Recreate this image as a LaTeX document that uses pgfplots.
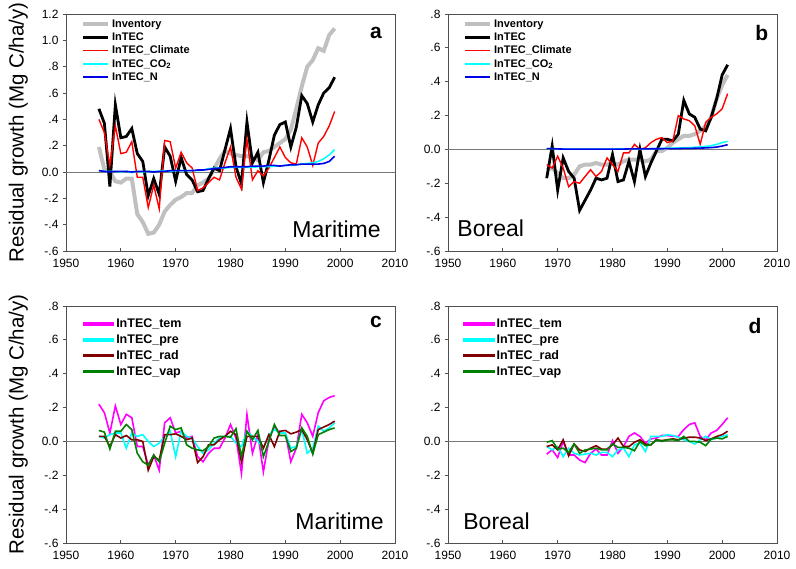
\documentclass[border=0pt]{standalone}
\usepackage{fontspec}
\setmainfont{Liberation Sans}
\usepackage{pgfplots}
\usepackage{pgfplotstable}
\pgfplotsset{compat=1.18}
\usepgfplotslibrary{groupplots}

\definecolor{invgray}{RGB}{192,192,192}
\definecolor{radred}{RGB}{128,0,0}
\definecolor{vapgreen}{RGB}{0,128,0}
\definecolor{axgray}{RGB}{80,80,80}
\definecolor{zerogray}{RGB}{120,120,120}
\definecolor{cyn}{RGB}{0,255,255}
\definecolor{mag}{RGB}{255,0,255}
\definecolor{blu}{RGB}{0,0,230}
\definecolor{rd}{RGB}{255,0,0}

% Maritime: inventory and model runs
\pgfplotstableread{
year inv intec clim co2 n
1956 0.19 0.48 0.40 0.010 0.010
1957 0.02 0.37 0.30 0.005 0.005
1958 0.00 -0.11 0.05 0.005 0.000
1959 -0.07 0.51 0.35 0.005 0.005
1960 -0.08 0.26 0.14 0.000 0.005
1961 -0.05 0.27 0.15 0.005 0.005
1962 -0.05 0.33 0.23 -0.005 0.000
1963 -0.32 0.14 -0.04 0.005 0.005
1964 -0.38 0.08 -0.04 0.000 0.005
1965 -0.47 -0.18 -0.27 0.005 0.005
1966 -0.46 -0.05 -0.10 0.005 0.000
1967 -0.40 -0.17 -0.28 0.005 0.005
1968 -0.30 0.19 0.24 0.010 0.005
1969 -0.25 0.12 0.23 0.005 0.010
1970 -0.21 -0.07 0.03 0.010 0.010
1971 -0.19 0.11 0.15 0.010 0.010
1972 -0.16 -0.02 0.07 0.010 0.010
1973 -0.16 -0.06 0.03 0.010 0.010
1974 -0.10 -0.15 -0.14 0.010 0.015
1975 -0.08 -0.14 -0.12 0.015 0.015
1976 -0.05 -0.05 -0.08 0.025 0.020
1977 0.02 0.03 -0.04 0.030 0.025
1978 0.10 0.01 -0.06 0.030 0.030
1979 0.16 0.17 0.07 0.030 0.035
1980 0.14 0.33 0.19 0.035 0.040
1981 0.13 0.04 -0.04 0.035 0.040
1982 0.12 -0.09 -0.13 0.035 0.040
1983 0.12 0.38 0.25 0.035 0.040
1984 0.11 0.07 -0.06 0.035 0.045
1985 0.09 0.15 0.01 0.040 0.045
1986 0.15 -0.08 -0.03 0.040 0.045
1987 0.16 0.09 0.03 0.040 0.050
1988 0.19 0.28 0.11 0.045 0.050
1989 0.22 0.36 0.19 0.045 0.045
1990 0.25 0.38 0.11 0.050 0.050
1991 0.32 0.19 0.07 0.050 0.055
1992 0.48 0.34 0.06 0.055 0.055
1993 0.65 0.58 0.26 0.060 0.060
1994 0.80 0.52 0.19 0.065 0.060
1995 0.85 0.38 0.05 0.070 0.060
1996 0.94 0.51 0.22 0.080 0.060
1997 0.92 0.60 0.27 0.100 0.065
1998 1.04 0.64 0.35 0.130 0.080
1999 1.09 0.72 0.46 0.170 0.120
}\tabA

% Boreal: inventory and model runs
\pgfplotstableread{
year inv intec clim co2 n
1968 -0.12 -0.17 -0.09 0.005 0.005
1969 -0.11 0.02 -0.11 0.005 0.005
1970 -0.14 -0.24 -0.04 0.003 0.003
1971 -0.17 -0.05 -0.11 0.003 0.002
1972 -0.17 -0.13 -0.22 0.002 0.002
1973 -0.15 -0.17 -0.19 0.002 0.002
1974 -0.10 -0.36 -0.20 0.002 0.002
1975 -0.09 -0.30 -0.16 0.002 0.002
1976 -0.09 -0.24 -0.12 0.002 0.002
1977 -0.08 -0.17 -0.16 0.002 0.002
1978 -0.09 -0.18 -0.13 0.002 0.002
1979 -0.09 -0.17 -0.05 0.002 0.002
1980 -0.08 -0.03 -0.09 0.002 0.002
1981 -0.09 -0.19 -0.13 0.003 0.002
1982 -0.07 -0.18 -0.02 0.003 0.002
1983 -0.06 -0.07 -0.02 0.003 0.003
1984 -0.06 -0.19 0.03 0.003 0.003
1985 -0.06 0.00 0.00 0.004 0.003
1986 -0.07 -0.16 0.01 0.004 0.003
1987 -0.06 -0.08 0.04 0.005 0.004
1988 -0.01 -0.01 0.06 0.005 0.004
1989 -0.01 0.06 0.07 0.006 0.004
1990 0.01 0.06 0.04 0.007 0.005
1991 0.04 0.05 0.05 0.008 0.005
1992 0.06 0.09 0.20 0.009 0.005
1993 0.08 0.29 0.18 0.010 0.006
1994 0.08 0.21 0.17 0.011 0.006
1995 0.09 0.19 0.14 0.013 0.007
1996 0.11 0.12 0.03 0.015 0.008
1997 0.14 0.11 0.16 0.018 0.009
1998 0.19 0.19 0.19 0.022 0.011
1999 0.30 0.30 0.21 0.030 0.014
2000 0.38 0.44 0.24 0.040 0.020
2001 0.44 0.50 0.33 0.048 0.028
}\tabB

% Maritime: single climate factors
\pgfplotstableread{
year tem pre rad vap
1956 0.22 0.03 0.03 0.065
1957 0.17 0.02 0.03 0.055
1958 0.05 0.04 -0.03 -0.045
1959 0.21 0.05 0.04 0.06
1960 0.10 0.05 0.02 0.06
1961 0.16 -0.04 0.035 0.10
1962 0.14 0.05 0.01 0.07
1963 -0.03 0.03 0.01 -0.07
1964 -0.03 0.04 0.00 -0.12
1965 -0.14 0.00 -0.17 -0.14
1966 -0.08 -0.03 -0.09 -0.08
1967 -0.17 -0.01 -0.11 -0.12
1968 0.11 0.03 0.04 -0.01
1969 0.14 0.06 0.04 0.09
1970 0.05 -0.09 0.045 0.07
1971 0.06 0.06 0.03 0.08
1972 0.02 0.03 0.01 -0.02
1973 0.03 0.02 0.02 -0.04
1974 -0.09 -0.03 -0.125 -0.05
1975 -0.12 -0.07 -0.09 -0.055
1976 -0.07 -0.05 -0.02 -0.03
1977 -0.04 -0.01 -0.02 0.02
1978 -0.04 0.02 0.01 0.03
1979 0.02 0.03 0.03 0.03
1980 0.10 0.03 0.06 0.025
1981 0.02 -0.01 0.04 0.075
1982 -0.19 -0.03 -0.12 -0.09
1983 0.16 0.06 0.03 0.06
1984 -0.07 0.03 0.03 0.01
1985 0.04 0.00 0.03 0.065
1986 -0.18 -0.04 -0.04 -0.09
1987 0.01 0.04 0.04 0.00
1988 0.09 0.07 -0.03 0.10
1989 0.05 0.05 0.06 0.035
1990 0.05 0.05 0.065 0.035
1991 -0.12 -0.04 0.045 -0.06
1992 -0.04 -0.03 0.055 -0.04
1993 0.16 0.07 0.07 0.08
1994 0.11 -0.07 0.01 0.03
1995 0.03 -0.04 -0.07 -0.075
1996 0.17 0.09 0.07 0.04
1997 0.24 0.06 0.085 0.055
1998 0.26 0.08 0.10 0.07
1999 0.27 0.11 0.12 0.08
}\tabC

% Boreal: single climate factors
\pgfplotstableread{
year tem pre rad vap
1968 -0.075 -0.03 -0.03 -0.005
1969 -0.05 -0.05 -0.02 0.005
1970 -0.095 -0.03 -0.05 -0.045
1971 0.00 -0.09 0.01 -0.04
1972 -0.08 -0.04 -0.085 -0.065
1973 -0.08 -0.07 -0.015 -0.015
1974 -0.11 -0.08 -0.05 -0.07
1975 -0.125 -0.075 -0.06 -0.05
1976 -0.07 -0.07 -0.04 -0.045
1977 -0.045 -0.08 -0.025 -0.04
1978 -0.08 -0.065 -0.045 -0.05
1979 -0.08 -0.065 -0.045 -0.05
1980 0.005 -0.09 -0.02 -0.015
1981 -0.07 -0.05 0.02 -0.035
1982 -0.03 -0.04 -0.03 -0.035
1983 0.03 -0.09 -0.03 -0.04
1984 0.05 -0.02 -0.005 -0.055
1985 0.03 -0.01 0.01 0.00
1986 -0.01 -0.06 -0.015 -0.025
1987 0.015 0.03 -0.02 -0.02
1988 0.02 0.03 0.01 0.01
1989 0.035 0.03 0.005 0.00
1990 0.035 0.04 0.01 0.01
1991 0.03 0.035 0.015 0.01
1992 0.03 0.025 0.01 0.005
1993 0.07 0.01 0.02 0.03
1994 0.10 0.00 0.025 0.00
1995 0.11 -0.015 0.025 0.00
1996 0.03 0.01 0.02 -0.005
1997 0.01 0.03 0.005 -0.025
1998 0.05 0.01 0.015 0.015
1999 0.065 0.02 0.03 0.02
2000 0.10 0.03 0.04 0.015
2001 0.14 0.04 0.06 0.03
}\tabD

\begin{document}
\begin{tikzpicture}
\begin{groupplot}[
  group style={group size=2 by 2, group name=G,
               horizontal sep=53pt, vertical sep=55pt},
  width=329pt, height=237pt, scale only axis,
  xmin=1950, xmax=2010,
  xtick={1950,1960,1970,1980,1990,2000,2010},
  xticklabels={1950,1960,1970,1980,1990,2000,2010},
  axis line style={axgray, line width=0.8pt},
  tick style={axgray, line width=0.8pt},
  xtick pos=left, ytick pos=left,
  tick align=inside,
  major tick length=3.5pt,
  ytick style={xshift=-3.5pt},
  tick label style={font=\fontsize{12}{13}\selectfont},
  xticklabel style={yshift=-5pt},
  yticklabel style={xshift=-4pt},
  ylabel style={font=\fontsize{20.5}{24}\selectfont,
                at={(axis description cs:-0.145,0.5)}, anchor=center},
  legend image code/.code={\draw[#1] (0pt,0pt) -- (25pt,0pt);},
  legend style={draw=none, fill=none, inner sep=0pt, anchor=north west,
                font=\bfseries\fontsize{11}{12.5}\selectfont},
  legend cell align=left,
]

% a
\nextgroupplot[
  ymin=-0.6, ymax=1.2,
  ytick={-0.6,-0.4,-0.2,0,0.2,0.4,0.6,0.8,1.0,1.2},
  yticklabels={-.6,-.4,-.2,0.0,.2,.4,.6,.8,1.0,1.2},
  ylabel={Residual growth (Mg C/ha/y)},
  legend style={at={(axis description cs:0.045,0.985)}},
]
\addplot[zerogray, line width=0.6pt, forget plot] coordinates {(1950,0) (2010,0)};
\addplot[invgray, line width=4pt] table[x=year, y=inv] {\tabA};
\addlegendentry{Inventory}
\addplot[black, line width=2.8pt] table[x=year, y=intec] {\tabA};
\addlegendentry{InTEC}
\addplot[rd, line width=1.4pt] table[x=year, y=clim] {\tabA};
\addlegendentry{InTEC\_Climate}
\addplot[cyn, line width=1.5pt] table[x=year, y=co2] {\tabA};
\addlegendentry{InTEC\_CO\textsubscript{2}}
\addplot[blu, line width=1.6pt] table[x=year, y=n] {\tabA};
\addlegendentry{InTEC\_N}
\node[font=\bfseries\fontsize{21}{24}\selectfont] at (rel axis cs:0.942,0.92) {a};
\node[anchor=base east, font=\fontsize{23}{26}\selectfont] at (rel axis cs:0.967,0.055) {Maritime};

% b
\nextgroupplot[
  ymin=-0.6, ymax=0.8,
  ytick={-0.6,-0.4,-0.2,0,0.2,0.4,0.6,0.8},
  yticklabels={-.6,-.4,-.2,0.0,.2,.4,.6,.8},
  legend style={at={(axis description cs:0.045,0.985)}},
]
\addplot[zerogray, line width=0.6pt, forget plot] coordinates {(1950,0) (2010,0)};
\addplot[invgray, line width=4pt] table[x=year, y=inv] {\tabB};
\addlegendentry{Inventory}
\addplot[black, line width=2.8pt] table[x=year, y=intec] {\tabB};
\addlegendentry{InTEC}
\addplot[rd, line width=1.4pt] table[x=year, y=clim] {\tabB};
\addlegendentry{InTEC\_Climate}
\addplot[cyn, line width=1.5pt] table[x=year, y=co2] {\tabB};
\addlegendentry{InTEC\_CO\textsubscript{2}}
\addplot[blu, line width=1.6pt] table[x=year, y=n] {\tabB};
\addlegendentry{InTEC\_N}
\node[font=\bfseries\fontsize{21}{24}\selectfont] at (rel axis cs:0.954,0.92) {b};
\node[anchor=base west, font=\fontsize{23}{26}\selectfont] at (rel axis cs:0.018,0.06) {Boreal};

% c
\nextgroupplot[
  ymin=-0.6, ymax=0.8,
  ytick={-0.6,-0.4,-0.2,0,0.2,0.4,0.6,0.8},
  yticklabels={-.6,-.4,-.2,0.0,.2,.4,.6,.8},
  ylabel={Residual growth (Mg C/ha/y)},
  legend style={at={(axis description cs:0.05,0.955)},
                font=\bfseries\fontsize{12.5}{15}\selectfont, row sep=1.5pt},
  legend image code/.code={\fill[#1] (0pt,-1pt) rectangle (30pt,1pt);},
]
\addplot[zerogray, line width=0.6pt, forget plot] coordinates {(1950,0) (2010,0)};
\addplot[mag, line width=1.6pt] table[x=year, y=tem] {\tabC};
\addlegendentry{InTEC\_tem}
\addplot[cyn, line width=1.6pt] table[x=year, y=pre] {\tabC};
\addlegendentry{InTEC\_pre}
\addplot[radred, line width=1.6pt] table[x=year, y=rad] {\tabC};
\addlegendentry{InTEC\_rad}
\addplot[vapgreen, line width=1.6pt] table[x=year, y=vap] {\tabC};
\addlegendentry{InTEC\_vap}
\node[font=\bfseries\fontsize{21}{24}\selectfont] at (rel axis cs:0.942,0.932) {c};
\node[anchor=base east, font=\fontsize{23}{26}\selectfont] at (rel axis cs:0.976,0.055) {Maritime};

% d
\nextgroupplot[
  ymin=-0.6, ymax=0.8,
  ytick={-0.6,-0.4,-0.2,0,0.2,0.4,0.6,0.8},
  yticklabels={-.6,-.4,-.2,0.0,.2,.4,.6,.8},
  legend style={at={(axis description cs:0.045,0.955)},
                font=\bfseries\fontsize{12.5}{15}\selectfont, row sep=1.5pt},
  legend image code/.code={\fill[#1] (0pt,-1pt) rectangle (30pt,1pt);},
]
\addplot[zerogray, line width=0.6pt, forget plot] coordinates {(1950,0) (2010,0)};
\addplot[mag, line width=1.6pt] table[x=year, y=tem] {\tabD};
\addlegendentry{InTEC\_tem}
\addplot[cyn, line width=1.6pt] table[x=year, y=pre] {\tabD};
\addlegendentry{InTEC\_pre}
\addplot[radred, line width=1.6pt] table[x=year, y=rad] {\tabD};
\addlegendentry{InTEC\_rad}
\addplot[vapgreen, line width=1.6pt] table[x=year, y=vap] {\tabD};
\addlegendentry{InTEC\_vap}
\node[font=\bfseries\fontsize{21}{24}\selectfont] at (rel axis cs:0.933,0.915) {d};
\node[anchor=base west, font=\fontsize{23}{26}\selectfont] at (rel axis cs:0.036,0.055) {Boreal};
\end{groupplot}
\pgfresetboundingbox
\path ([xshift=-66pt,yshift=14pt]G c1r1.north west) rectangle ([xshift=19pt,yshift=-25pt]G c2r2.south east);
\end{tikzpicture}
\end{document}
